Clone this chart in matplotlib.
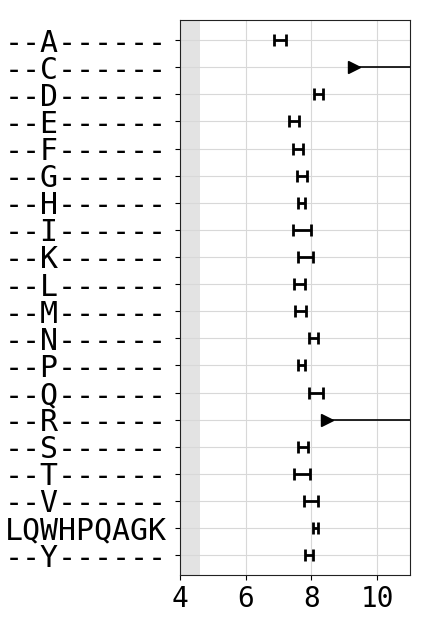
import numpy as np
import matplotlib
matplotlib.use("Agg")
import matplotlib.pyplot as plt

plt.rcParams['font.family'] = ['DejaVu Sans Mono']

labels = ['--A------', '--C------', '--D------', '--E------', '--F------',
          '--G------', '--H------', '--I------', '--K------', '--L------',
          '--M------', '--N------', '--P------', '--Q------', '--R------',
          '--S------', '--T------', '--V------', 'LQWHPQAGK', '--Y------']
# lower / upper interval ends (nan upper = open-ended)
low = [6.86, 9.30, 8.09, 7.33, 7.45, 7.55, 7.58, 7.43, 7.58, 7.46,
       7.49, 7.94, 7.58, 7.92, 8.47, 7.59, 7.46, 7.77, 8.06, 7.80]
high = [7.23, np.nan, 8.36, 7.61, 7.74, 7.88, 7.79, 8.00, 8.05, 7.80,
        7.82, 8.21, 7.80, 8.35, np.nan, 7.89, 7.97, 8.20, 8.20, 8.06]
shade_end = 4.6

low = np.array(low)
high = np.array(high)
y = np.arange(len(labels))

fig = plt.figure(figsize=(4.32, 6.33), dpi=100)
ax = fig.add_axes([0.4167, 0.0916, 0.5323, 0.8768])

ax.axvspan(4, shade_end, color='#e3e3e3', zorder=0, lw=0)

closed = ~np.isnan(high)
mid = (low[closed] + high[closed]) / 2
half = (high[closed] - low[closed]) / 2
ax.errorbar(mid, y[closed], xerr=half, fmt='none', ecolor='black',
            elinewidth=2, capsize=4, capthick=2, zorder=3)

opened = np.isnan(high)
for yy, lo in zip(y[opened], low[opened]):
    ax.plot([lo, 12], [yy, yy], color='black', lw=1.2, zorder=3)
    ax.plot(lo, yy, marker='>', color='black', ms=9, zorder=4)

ax.set_xlim(4, 11)
ax.set_ylim(len(labels) - 0.27, -0.74)
ax.set_yticks(y)
ax.set_yticklabels(labels)
ax.set_xticks([4, 6, 8, 10])
ax.tick_params(axis='x', labelsize=20)
ax.tick_params(axis='y', labelsize=21.5, pad=6)
ax.grid(True, color='#d8d8d8', lw=0.8)
ax.set_axisbelow(True)
for s in ax.spines.values():
    s.set_color('#222222')

fig.savefig('out.png', dpi=100)
